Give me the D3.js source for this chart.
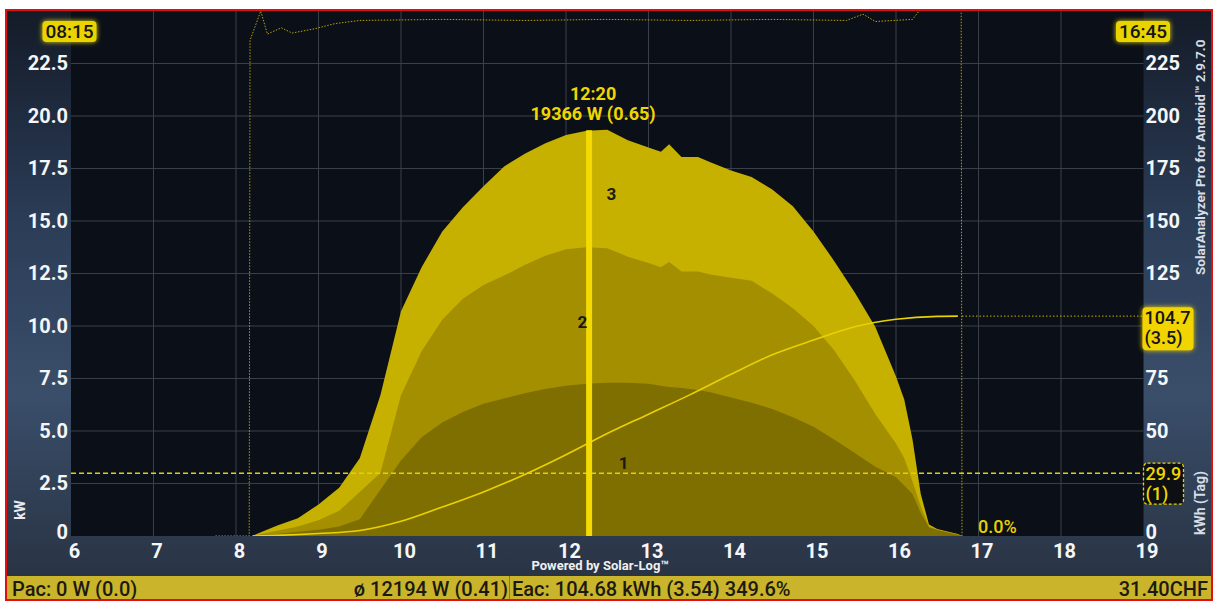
<!DOCTYPE html>
<html>
<head>
<meta charset="utf-8">
<script src="https://cdn.jsdelivr.net/npm/d3@7"></script>
<style>
body { margin: 0; background: #fff; }
text { font-family: Roboto, "DejaVu Sans", sans-serif; }
</style>
</head>
<body>
<svg width="1215" height="603"></svg>
<script>
// power curves, kW (3 = total, 2 = inverters 1+2, 1 = inverter 1)
var hours = [8.2, 8.25, 8.5, 8.75, 9.0, 9.25, 9.5, 9.75, 10.0, 10.25, 10.5, 10.75, 11.0, 11.25, 11.5, 11.75, 12.0, 12.25, 12.5, 12.75,
  13.0, 13.15, 13.25, 13.4, 13.6, 13.75, 14.0, 14.25, 14.5, 14.75, 15.0, 15.25, 15.5, 15.75, 16.0, 16.1, 16.2, 16.3, 16.4, 16.5, 16.75, 16.8];
var powerThree = [0, 0.1, 0.5, 0.85, 1.5, 2.3, 3.7, 6.7, 10.7, 12.8, 14.5, 15.65, 16.65, 17.6, 18.2, 18.7, 19.1, 19.3, 19.35, 18.85,
  18.5, 18.3, 18.65, 18.05, 18.05, 17.8, 17.4, 17.1, 16.5, 15.7, 14.5, 13.1, 11.6, 9.95, 7.6, 6.5, 4.6, 2.0, 0.55, 0.33, 0.1, 0];
var powerTwo = [0, 0.05, 0.25, 0.45, 0.75, 1.2, 2.1, 3.0, 6.7, 8.8, 10.3, 11.3, 11.95, 12.4, 12.9, 13.35, 13.65, 13.75, 13.7, 13.3,
  13.0, 12.8, 13.05, 12.6, 12.6, 12.45, 12.3, 12.15, 11.55, 10.85, 10.0, 8.85, 7.4, 5.8, 4.4, 3.7, 2.6, 1.4, 0.45, 0.3, 0.08, 0];
var powerOne = [0, 0.03, 0.1, 0.2, 0.3, 0.45, 0.8, 2.2, 3.6, 4.7, 5.4, 5.9, 6.3, 6.55, 6.8, 7.0, 7.15, 7.25, 7.3, 7.3,
  7.25, 7.15, 7.1, 7.05, 6.95, 6.85, 6.6, 6.35, 6.05, 5.65, 5.2, 4.6, 3.95, 3.3, 2.8, 2.4, 2.0, 1.1, 0.4, 0.28, 0.05, 0];

// daily yield, kWh (right axis)
var yieldHours = [8.2, 8.5, 9.0, 9.5, 10.0, 10.5, 11.0, 11.5, 12.0, 12.5, 13.0, 13.5, 14.0, 14.5, 15.0, 15.5, 16.0, 16.5, 16.75];
var yieldKwh = [0, 0.3, 1.2, 2.6, 7.0, 13.8, 21.0, 29.3, 38.7, 48.8, 58.0, 67.2, 77.0, 86.3, 93.3, 99.6, 103.2, 104.6, 104.7];

// dotted reference curve at the top (left axis units)
var levelHours = [7.75, 8.16, 8.17, 8.3, 8.38, 8.55, 8.68, 8.95, 9.2, 9.5, 10.5, 11.5, 12.5, 13.5, 14.5, 15.4, 15.6, 15.75, 16.2, 16.3, 16.75, 16.79, 16.8];
var levelValues = [0, 0, 23.6, 25.0, 23.9, 24.2, 23.95, 24.15, 24.4, 24.55, 24.6, 24.55, 24.6, 24.55, 24.6, 24.55, 24.85, 24.5, 24.6, 25.1, 25.3, 25.3, 0];

var xTicks = [6, 7, 8, 9, 10, 11, 12, 13, 14, 15, 16, 17, 18, 19];
var leftTicks = [0, 2.5, 5, 7.5, 10, 12.5, 15, 17.5, 20, 22.5];
var leftLabels = ["0", "2.5", "5.0", "7.5", "10.0", "12.5", "15.0", "17.5", "20.0", "22.5"];
var rightTicks = [0, 50, 75, 125, 150, 175, 200, 225];
var rightLabels = ["0", "50", "75", "125", "150", "175", "200", "225"];

var cursorHour = 12.28, cursorKw = 19.366;
var dayYield = 104.7, invYield = 29.9;
var endHour = 16.8;

var svg = d3.select("svg");

var x = d3.scaleLinear().domain([6, 19]).range([71, 1143.5]);
var y = d3.scaleLinear().domain([0, 25]).range([536, 11]);
var y2 = d3.scaleLinear().domain([0, 250]).range([536, 11]);

var defs = svg.append("defs");
var bg = defs.append("linearGradient").attr("id", "bg").attr("x1", 0).attr("y1", 0).attr("x2", 0).attr("y2", 1);
bg.append("stop").attr("offset", "0%").attr("stop-color", "#141b28");
bg.append("stop").attr("offset", "35%").attr("stop-color", "#2b3c56");
bg.append("stop").attr("offset", "65%").attr("stop-color", "#3a4e6a");
bg.append("stop").attr("offset", "100%").attr("stop-color", "#27303f");
defs.append("clipPath").attr("id", "plot")
  .append("rect").attr("x", x(6)).attr("y", y(25)).attr("width", x(19) - x(6)).attr("height", y(0) - y(25));
var glow = defs.append("filter").attr("id", "glow").attr("x", "-30%").attr("y", "-50%").attr("width", "160%").attr("height", "200%");
glow.append("feGaussianBlur").attr("stdDeviation", 2.5).attr("result", "b");
var fm = glow.append("feMerge");
fm.append("feMergeNode").attr("in", "b");
fm.append("feMergeNode").attr("in", "SourceGraphic");

// frame + backgrounds
svg.append("rect").attr("x", 6).attr("y", 10).attr("width", 1206).attr("height", 590).attr("fill", "url(#bg)");
svg.append("rect").attr("x", x(6)).attr("y", y(25)).attr("width", x(19) - x(6)).attr("height", y(0) - y(25)).attr("fill", "#0b0f17");

// grid
svg.append("g").selectAll("line").data(xTicks.slice(1, -1)).enter().append("line")
  .attr("x1", d => x(d)).attr("x2", d => x(d)).attr("y1", y(25)).attr("y2", y(0))
  .attr("stroke", "#3a404b").attr("stroke-width", 1);
svg.append("g").selectAll("line").data(leftTicks.slice(1)).enter().append("line")
  .attr("x1", x(6)).attr("x2", x(19)).attr("y1", d => y(d)).attr("y2", d => y(d))
  .attr("stroke", "#3a404b").attr("stroke-width", 1);

var plot = svg.append("g").attr("clip-path", "url(#plot)");

// top dotted curve
plot.append("path")
  .datum(levelHours.map((h, i) => [h, levelValues[i]]))
  .attr("d", d3.line().x(d => x(d[0])).y(d => y(d[1])))
  .attr("fill", "none").attr("stroke", "#b8a200").attr("stroke-width", 1).attr("stroke-dasharray", "1.5,1.5");

// power areas
var area = d3.area().x(d => x(d[0])).y0(y(0)).y1(d => y(d[1]));
[[powerThree, "#c6b000"], [powerTwo, "#a38f00"], [powerOne, "#7f6f00"]].forEach(function (s) {
  plot.append("path").datum(hours.map((h, i) => [h, s[0][i]]))
    .attr("d", area).attr("fill", s[1]);
});

// inverter yield marker line
plot.append("line").attr("x1", x(6)).attr("x2", x(19)).attr("y1", y2(invYield)).attr("y2", y2(invYield))
  .attr("stroke", "#e8cf00").attr("stroke-width", 1.5).attr("stroke-dasharray", "5,3");
// day yield marker
plot.append("line").attr("x1", x(endHour)).attr("x2", x(19)).attr("y1", y2(dayYield)).attr("y2", y2(dayYield))
  .attr("stroke", "#c9b200").attr("stroke-width", 1).attr("stroke-dasharray", "1.5,2");

// cumulative yield
plot.append("path")
  .datum(yieldHours.map((h, i) => [h, yieldKwh[i]]))
  .attr("d", d3.line().x(d => x(d[0])).y(d => y2(d[1])).curve(d3.curveMonotoneX))
  .attr("fill", "none").attr("stroke", "#ead200").attr("stroke-width", 1.6);

// cursor
plot.append("line").attr("x1", x(cursorHour)).attr("x2", x(cursorHour)).attr("y1", y(cursorKw) + 1).attr("y2", y(0))
  .attr("stroke", "#f4da00").attr("stroke-width", 6);

// series numbers
var nums = [["3", 12.55, 16.3], ["2", 12.2, 10.2], ["1", 12.7, 3.5]];
svg.selectAll(".num").data(nums).enter().append("text")
  .attr("x", d => x(d[1])).attr("y", d => y(d[2])).attr("text-anchor", "middle").attr("dominant-baseline", "central")
  .attr("font-size", 17).attr("font-weight", 700).attr("fill", "#1b1a10").text(d => d[0]);

// cursor labels
svg.append("text").attr("x", x(cursorHour) + 4).attr("y", y(cursorKw) - 29).attr("text-anchor", "middle")
  .attr("font-size", 18).attr("font-weight", 700).attr("fill", "#f0d600").text("12:20");
svg.append("text").attr("x", x(cursorHour) + 4).attr("y", y(cursorKw) - 9).attr("text-anchor", "middle")
  .attr("font-size", 18).attr("font-weight", 700).attr("fill", "#f0d600").text("19366 W (0.65)");

svg.append("text").attr("x", x(endHour) + 16).attr("y", y(0) - 3).attr("font-size", 18).attr("font-weight", 500)
  .attr("fill", "#e8cf00").text("0.0%");

// axes
var left = svg.append("g").attr("transform", "translate(" + (x(6) - 3) + ",0)")
  .call(d3.axisLeft(y).tickValues(leftTicks).tickFormat((d, i) => leftLabels[i]).tickSize(0).tickPadding(0));
var right = svg.append("g").attr("transform", "translate(" + (x(19) + 2) + ",0)")
  .call(d3.axisRight(y2).tickValues(rightTicks).tickFormat((d, i) => rightLabels[i]).tickSize(0).tickPadding(0));
var bottom = svg.append("g").attr("transform", "translate(3," + (y(0) + 3) + ")")
  .call(d3.axisBottom(x).tickValues(xTicks).tickFormat(d3.format("d")).tickSize(0).tickPadding(0));
[left, right, bottom].forEach(function (g) {
  g.select(".domain").remove();
  g.selectAll("text").attr("fill", "#f4f6f8").attr("font-size", 20).attr("font-weight", 700)
    .attr("font-family", "Roboto, sans-serif");
});
left.selectAll(".tick text").filter(d => d === 0).attr("dy", "0.1em");
right.selectAll(".tick text").filter(d => d === 0).attr("dy", "0.1em");
bottom.selectAll(".tick text").attr("dy", "0.95em");

svg.append("text").attr("transform", "translate(25,510) rotate(-90)").attr("text-anchor", "middle")
  .attr("font-size", 14).attr("font-weight", 700).attr("fill", "#e8ecf0").text("kW");
svg.append("text").attr("transform", "translate(1205,275) rotate(-90)")
  .attr("font-size", 13.5).attr("font-weight", 700).attr("fill", "#d8dde4").text("SolarAnalyzer Pro for Android\u2122 2.9.7.0");
svg.append("text").attr("transform", "translate(1205,535) rotate(-90)")
  .attr("font-size", 14).attr("font-weight", 700).attr("fill", "#d8dde4").text("kWh (Tag)");
svg.append("text").attr("x", 600).attr("y", 570).attr("text-anchor", "middle")
  .attr("font-size", 13).attr("font-weight", 700).attr("fill", "#eef0f3").text("Powered by Solar-Log\u2122");

// time boxes
[["08:15", 69.5], ["16:45", 1143]].forEach(function (t) {
  var g = svg.append("g");
  g.append("rect").attr("x", t[1] - 27).attr("y", 21).attr("width", 54).attr("height", 21).attr("rx", 4)
    .attr("fill", "#e9d400").attr("filter", "url(#glow)");
  g.append("text").attr("x", t[1]).attr("y", 37.5).attr("text-anchor", "middle")
    .attr("font-size", 19).attr("font-weight", 500).attr("fill", "#161616").text(t[0]);
});

// yield value boxes on right axis
var yb = svg.append("g");
yb.append("rect").attr("x", x(19) - 1).attr("y", y2(dayYield) - 9).attr("width", 51).attr("height", 43).attr("rx", 4)
  .attr("fill", "#f1d400").attr("filter", "url(#glow)");
yb.append("text").attr("x", x(19) + 1).attr("y", y2(dayYield) + 8).attr("font-size", 18).attr("font-weight", 500)
  .attr("fill", "#151515").text("104.7");
yb.append("text").attr("x", x(19) + 1).attr("y", y2(dayYield) + 28).attr("font-size", 18).attr("font-weight", 500)
  .attr("fill", "#151515").text("(3.5)");
var ib = svg.append("g");
ib.append("rect").attr("x", x(19)).attr("y", y2(invYield) - 10).attr("width", 40).attr("height", 41).attr("rx", 4)
  .attr("fill", "#0d0f12").attr("stroke", "#e8cf00").attr("stroke-width", 1.3).attr("stroke-dasharray", "3,2");
ib.append("text").attr("x", x(19) + 2).attr("y", y2(invYield) + 7).attr("font-size", 18).attr("font-weight", 500)
  .attr("fill", "#f0d600").text("29.9");
ib.append("text").attr("x", x(19) + 2).attr("y", y2(invYield) + 27).attr("font-size", 18).attr("font-weight", 500)
  .attr("fill", "#f0d600").text("(1)");

// status bar
svg.append("rect").attr("x", 6).attr("y", 576).attr("width", 1206).attr("height", 24).attr("fill", "#c9b42b");
svg.append("line").attr("x1", 509.5).attr("x2", 509.5).attr("y1", 576).attr("y2", 600).attr("stroke", "#8c7c1a").attr("stroke-width", 1);
var sb = [["Pac: 0 W (0.0)", 12, "start"], ["\u00f8 12194 W (0.41)", 508, "end"],
  ["Eac: 104.68 kWh (3.54) 349.6%", 512, "start"], ["31.40CHF", 1208, "end"]];
svg.selectAll(".sb").data(sb).enter().append("text")
  .attr("x", d => d[1]).attr("y", 596).attr("text-anchor", d => d[2])
  .attr("font-size", 20).attr("font-weight", 500).attr("fill", "#1c1a10").text(d => d[0]);

// red frame
svg.append("rect").attr("x", 6).attr("y", 10).attr("width", 1206).attr("height", 590)
  .attr("fill", "none").attr("stroke", "#e01010").attr("stroke-width", 2);
</script>
</body>
</html>
